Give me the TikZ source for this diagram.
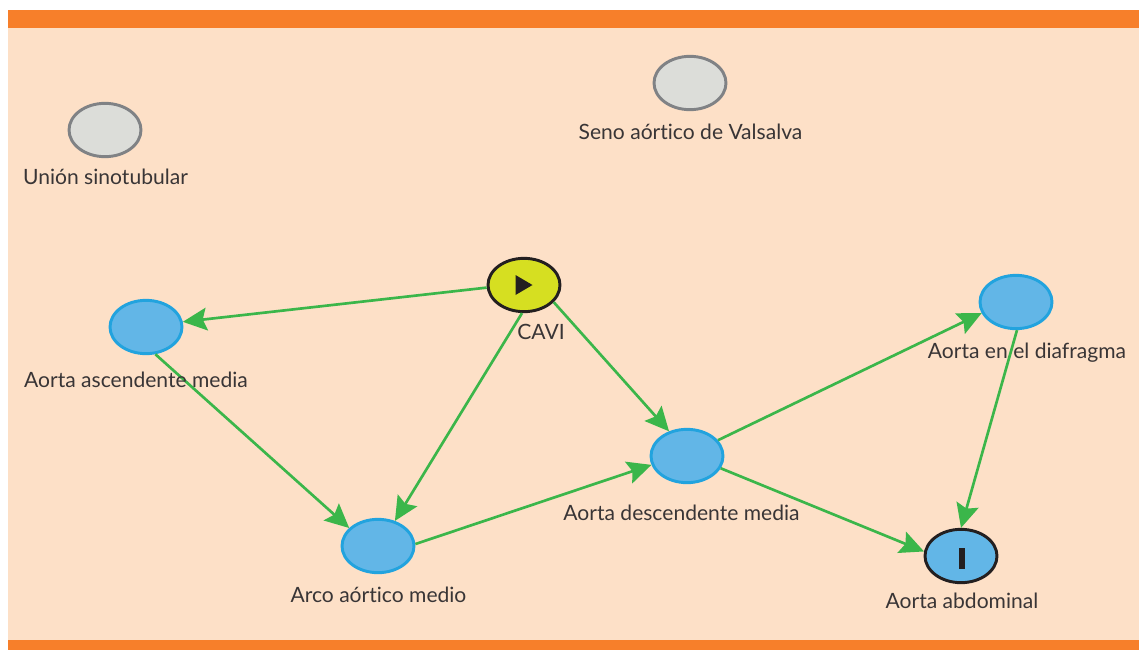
\documentclass[tikz,border=0pt]{standalone}
\usepackage{fontspec}
\setmainfont[RawFeature={-liga;-dlig;-clig}]{Lato}
\usetikzlibrary{arrows.meta, shapes.geometric}
\definecolor{barO}{RGB}{247,127,42}
\definecolor{paleO}{RGB}{253,224,199}
\definecolor{lineG}{RGB}{59,182,74}
\definecolor{dotB}{RGB}{98,182,231}
\definecolor{edgeB}{RGB}{34,163,222}
\definecolor{dotK}{RGB}{214,223,33}
\definecolor{dotS}{RGB}{220,221,217}
\definecolor{edgeS}{RGB}{128,130,133}
\definecolor{inkK}{RGB}{35,31,32}
\tikzset{
    site/.style={draw, ellipse, minimum width=54pt, minimum height=40pt, inner sep=0pt, line width=2.2pt},
    blue site/.style={site, draw=edgeB, fill=dotB},
    grey site/.style={site, draw=edgeS, fill=dotS},
    dark site/.style={site, draw=inkK},
    tag/.style={font=\fontsize{15.8}{19}\selectfont, text=inkK!90, inner sep=0pt},
    flow/.style={draw=lineG, line width=2pt, -{Stealth[length=18pt, width=17pt, inset=3pt]}}
}
\begin{document}
\begin{tikzpicture}[x=0.75pt, y=-0.75pt]
    \useasboundingbox (0,0) rectangle (1139,650);
    \fill[paleO] (8,27) rectangle (1139,640);
    \fill[barO] (8,10) rectangle (1139,27.5);
    \fill[barO] (8,640) rectangle (1139,650);
    \node[grey site] (union) at (105,130) {};
    \node[grey site] (seno) at (690,83) {};
    \node[dark site, fill=dotK] (cavi) at (524,285) {};
    \node[blue site] (asc) at (146,327) {};
    \node[blue site] (arco) at (378,546) {};
    \node[blue site] (desc) at (687,456) {};
    \node[blue site] (diaf) at (1016,302) {};
    \node[dark site, fill=dotB] (abd) at (961,556) {};
    \fill[inkK] (515.5,275) -- (532.5,285) -- (515.5,295) -- cycle;
    \fill[inkK] (958.5,548) rectangle (964.5,569);
    \draw[flow] (cavi.184) -- (asc.8);
    \draw[flow] (cavi.-94) -- (arco.56);
    \draw[flow] (cavi.-30) -- (desc.126);
    \draw[flow] (asc.-71) -- (arco.148);
    \draw[flow] (arco.3) -- (desc.194);
    \draw[flow] (desc.27) -- (diaf.198);
    \draw[flow] (desc.-20) -- (abd.173);
    \draw[flow] (diaf.-88) -- (abd.90);
    \node[tag] (tunion) at (105.5,176.6) {Unión sinotubular};
    \node[tag] (tseno) at (690.5,131.6) {Seno aórtico de Valsalva};
    \node[tag] (tcavi) at (541,331.6) {CAVI};
    \node[tag] (tasc) at (136,379.6) {Aorta ascendente media};
    \node[tag] (tarco) at (378.5,594.6) {Arco aórtico medio};
    \node[tag] (tdesc) at (681.5,512.6) {Aorta descendente media};
    \node[tag] (tdiaf) at (1027,352.6) {Aorta en el diafragma};
    \node[tag] (tabd) at (962,600.6) {Aorta abdominal};
\end{tikzpicture}
\end{document}
